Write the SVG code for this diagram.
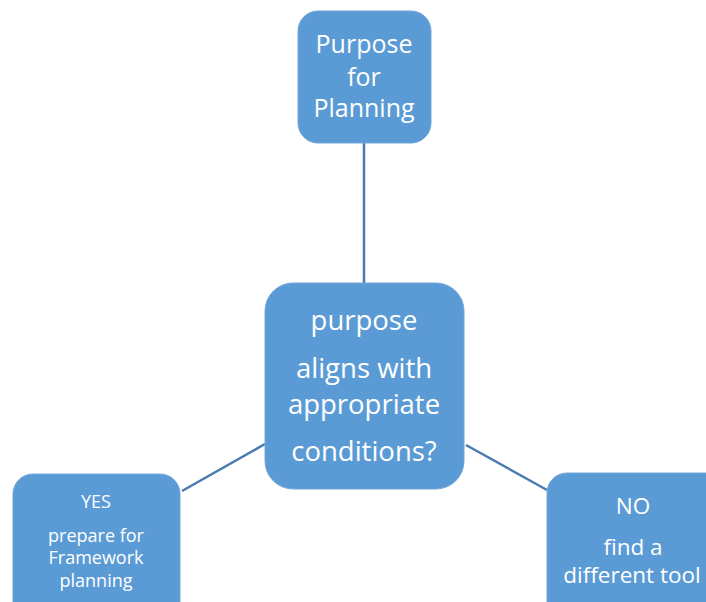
<svg xmlns="http://www.w3.org/2000/svg" width="706" height="602" viewBox="0 0 706 602">
<style>
.box{fill:#5b9bd5;stroke:#6fa7da;stroke-width:1}
.t{fill:#ffffff;font-family:"Open Sans","Liberation Sans",sans-serif;text-anchor:middle}
.c{stroke:#4a7ab0;stroke-width:2.5;fill:none}
</style>
<rect width="706" height="602" fill="#ffffff"/>
<g id="connectors">
<line class="c" x1="364" y1="143" x2="364" y2="283"/>
<line class="c" x1="265" y1="444" x2="182" y2="491"/>
<line class="c" x1="466" y1="445" x2="547" y2="490"/>
</g>
<g id="purpose-for-planning">
<rect class="box" x="298" y="11" width="133" height="132" rx="20"/>
<text class="t" font-size="25"><tspan x="364" y="53">Purpose</tspan><tspan x="364" y="86">for</tspan><tspan x="364" y="117">Planning</tspan></text>
</g>
<g id="decision">
<rect class="box" x="265" y="283" width="199" height="206" rx="28"/>
<text class="t" font-size="27.5"><tspan x="364" y="330">purpose</tspan><tspan x="364" y="378">aligns with</tspan><tspan x="364" y="414">appropriate</tspan><tspan x="364" y="461">conditions?</tspan></text>
</g>
<g id="yes">
<rect class="box" x="13" y="474" width="167" height="150" rx="20"/>
<text class="t" font-size="18"><tspan x="96" y="508">YES</tspan><tspan x="96" y="542">prepare for</tspan><tspan x="96" y="564">Framework</tspan><tspan x="96" y="587">planning</tspan></text>
</g>
<g id="no">
<rect class="box" x="547" y="473" width="180" height="150" rx="20"/>
<text class="t" font-size="22.5"><tspan x="633" y="514">NO</tspan><tspan x="633" y="555">find a</tspan><tspan x="632" y="583">different tool</tspan></text>
</g>
</svg>
